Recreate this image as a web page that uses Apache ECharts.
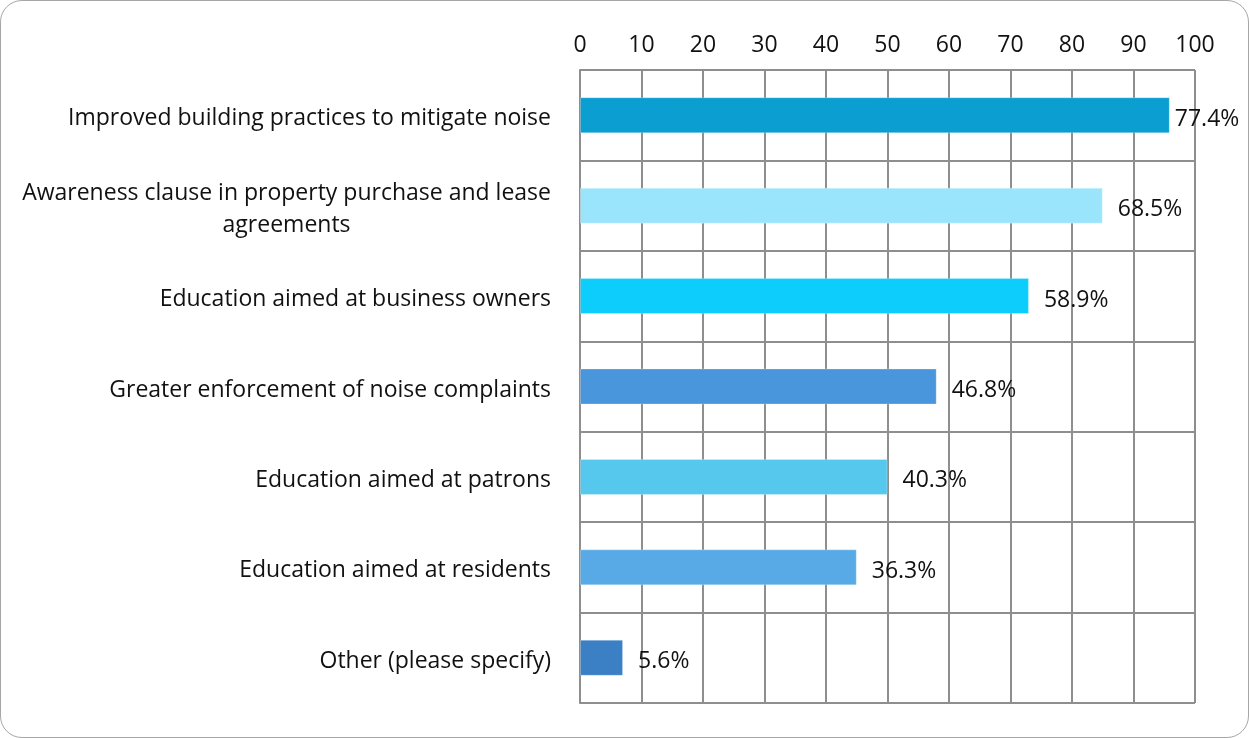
<!DOCTYPE html>
<html>
<head>
<meta charset="utf-8">
<script src="https://cdn.jsdelivr.net/npm/echarts@6/dist/echarts.min.js"></script>
<style>
  html, body { margin: 0; padding: 0; background: #fff; }
  #frame { position: absolute; left: 0; top: 0; width: 1247px; height: 736px; border: 1px solid #a6a6a6; border-radius: 22px; background: #fff; }
  #chart { position: absolute; left: -1px; top: -1px; width: 1249px; height: 738px; }
</style>
</head>
<body>
<div id="frame"><div id="chart"></div></div>
<script>
// Categories (top to bottom)
const categories = [
  "Improved building practices to mitigate noise",
  "Awareness clause in property purchase and lease\nagreements",
  "Education aimed at business owners",
  "Greater enforcement of noise complaints",
  "Education aimed at patrons",
  "Education aimed at residents",
  "Other (please specify)"
];
// Bar lengths
const barValues = [95.9, 85.0, 73.0, 58.0, 50.0, 45.0, 7.0];
// Data labels printed next to bars
const labelTexts = ["77.4%", "68.5%", "58.9%", "46.8%", "40.3%", "36.3%", "5.6%"];
// Axis tick labels
const tickLabels = ["0", "10", "20", "30", "40", "50", "60", "70", "80", "90", "100"];
const barColors = ["#0b9fd1", "#9be5fc", "#0dcdfd", "#4a96dc", "#56c8ee", "#57aae6", "#3b80c5"];

const FONT = "Open Sans";
const FS = 23;
const TXT = '#111';
const chart = echarts.init(document.getElementById('chart'), null, { renderer: 'canvas' });

const data = barValues.map((v, i) => ({
  value: v,
  itemStyle: { color: barColors[i] },
  label: { distance: i === 0 ? 5 : 15 }
}));

chart.setOption({
  animation: false,
  backgroundColor: 'transparent',
  grid: { left: 580, right: 54, top: 70, bottom: 35, containLabel: false },
  xAxis: {
    type: 'value',
    position: 'top',
    min: 0, max: 100, interval: 10,
    axisLine: { show: false },
    axisTick: { show: false },
    axisLabel: {
      margin: 13,
      fontFamily: FONT, fontSize: FS, color: TXT,
      formatter: (v) => tickLabels[Math.round(v / 10)]
    },
    splitLine: { show: true, lineStyle: { color: '#8e8e8e', width: 2 } }
  },
  yAxis: {
    type: 'category',
    inverse: true,
    data: categories,
    axisLine: { show: true, lineStyle: { color: '#8e8e8e', width: 2 } },
    axisTick: { show: true, length: 0, lineStyle: { color: '#8e8e8e', width: 2 } },
    splitLine: { show: true, lineStyle: { color: '#8e8e8e', width: 2 } },
    axisLabel: {
      margin: 29,
      fontFamily: FONT, fontSize: FS, color: TXT,
      lineHeight: 32,
      padding: [7, 0, 0, 0],
      formatter: (v) => v.split('\n').map(s => '{c|' + s + '}').join('\n'),
      rich: { c: { align: 'center', fontFamily: FONT, fontSize: FS, color: TXT, lineHeight: 32 } }
    }
  },
  series: [{
    type: 'bar',
    data: data,
    barWidth: 36,
    itemStyle: { borderColor: 'rgba(255,255,255,0.25)', borderWidth: 1 },
    label: {
      show: true,
      position: 'right',
      offset: [0, 4],
      fontFamily: FONT, fontSize: FS, color: TXT,
      formatter: (p) => labelTexts[p.dataIndex]
    }
  }]
});
</script>
</body>
</html>
